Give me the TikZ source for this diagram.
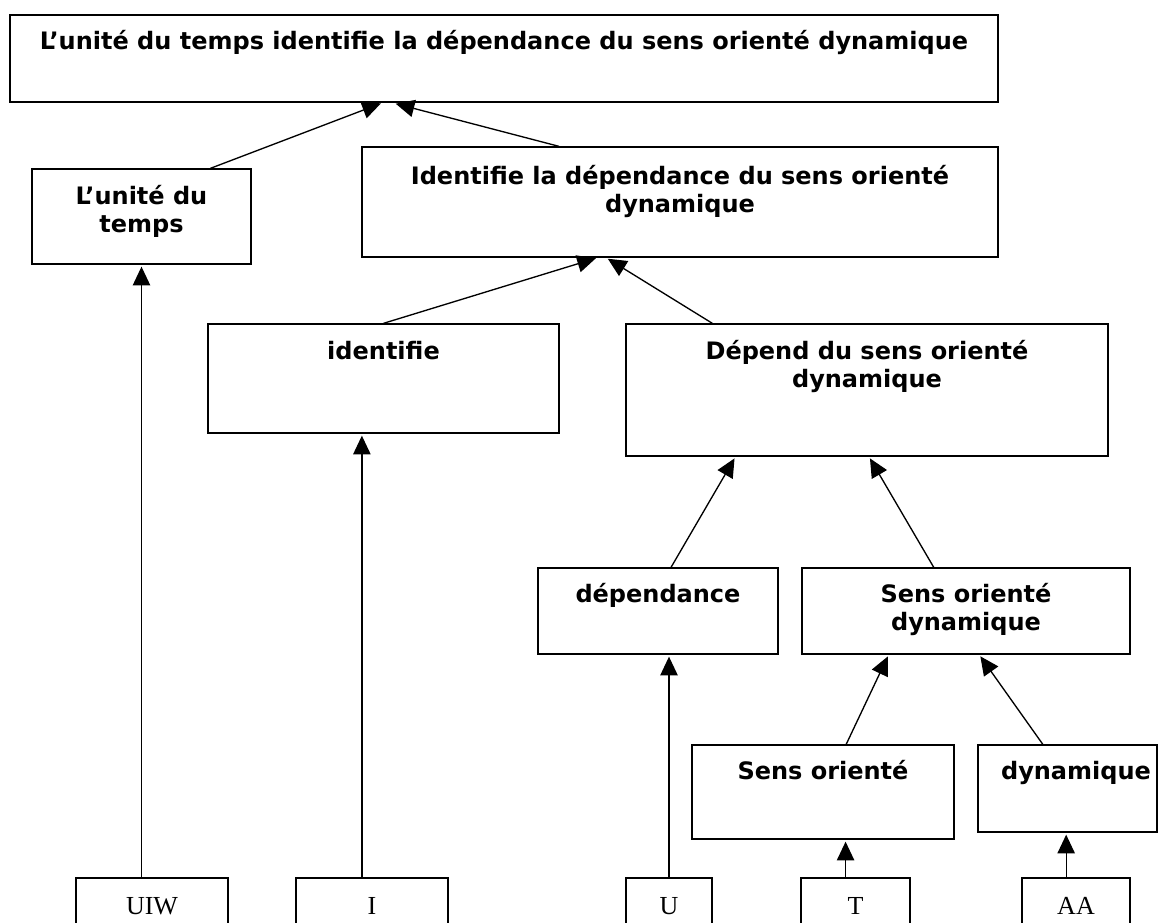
\documentclass[tikz,border=0pt]{standalone}
\usepackage{fontspec}
\setmainfont{Liberation Serif}
\newfontfamily\labfont{DejaVu Sans}
\usetikzlibrary{arrows.meta,calc,fit}

\tikzset{
  box/.style={draw=black, line width=1pt, inner sep=0pt},
  lab/.style={font=\labfont\bfseries\fontsize{18}{21.6}\selectfont, inner sep=0pt, anchor=base},
  leaf/.style={font=\fontsize{19.5}{23}\selectfont, inner sep=0pt, anchor=base},
  arr/.style={draw=black, line width=1pt, -{Triangle[length=14pt,width=13pt]}, shorten >=1.5pt}
}

\begin{document}
\begin{tikzpicture}[x=0.75pt,y=-0.75pt]
\useasboundingbox (0,0) rectangle (1159,923);
\clip (0,0) rectangle (1159,923);

% concept boxes
\node[box, fit={(10,15)(998,102)}] (top) {};
\node[lab] (topt) at ($(top.north)+(0,35)$) {L’unité du temps identifie la dépendance du sens orienté dynamique};

\node[box, fit={(32,169)(251,264)}] (unite) {};
\node[lab] (unitea) at ($(unite.north)+(0,36)$) {L’unité du};
\node[lab] (uniteb) at ($(unite.north)+(0,64)$) {temps};

\node[box, fit={(362,147)(998,257)}] (ident) {};
\node[lab] (identa) at ($(ident.north)+(0,38)$) {Identifie la dépendance du sens orienté};
\node[lab] (identb) at ($(ident.north)+(0,66)$) {dynamique};

\node[box, fit={(208,324)(559,433)}] (identifie) {};
\node[lab] (identifiet) at ($(identifie.north)+(0,36)$) {identifie};

\node[box, fit={(626,324)(1108,456)}] (depend) {};
\node[lab] (denda) at ($(depend.north)+(0,36)$) {Dépend du sens orienté};
\node[lab] (dendb) at ($(depend.north)+(0,64)$) {dynamique};

\node[box, fit={(538,568)(778,654)}] (dep) {};
\node[lab] (dept) at ($(dep.north)+(0,35)$) {dépendance};

\node[box, fit={(802,568)(1130,654)}] (sod) {};
\node[lab] (soda) at ($(sod.north)+(0,35)$) {Sens orienté};
\node[lab] (sodb) at ($(sod.north)+(0,63)$) {dynamique};

\node[box, fit={(692,745)(954,839)}] (so) {};
\node[lab] (sot) at ($(so.north)+(0,35)$) {Sens orienté};

\node[box, fit={(978,745)(1157,832)}] (dyn) {};
\node[lab] (dynt) at ($(dyn.north)+(8.5,35)$) {dynamique};

% word boxes along the bottom
\node[box, fit={(76,878)(228,960)}] (bUIW) {};
\node[leaf] (tUIW) at ($(bUIW.north)+(0,37)$) {UIW};
\node[box, fit={(296,878)(448,960)}] (bI) {};
\node[leaf] (tI) at ($(bI.north)+(0,37)$) {I};
\node[box, fit={(626,878)(712,960)}] (bU) {};
\node[leaf] (tU) at ($(bU.north)+(0,37)$) {U};
\node[box, fit={(801,878)(910,960)}] (bT) {};
\node[leaf] (tT) at ($(bT.north)+(0,37)$) {T};
\node[box, fit={(1022,878)(1130,960)}] (bAA) {};
\node[leaf] (tAA) at ($(bAA.north)+(0,37)$) {AA};

% composition arrows
\draw[arr] ($(unite.north west)!0.813!(unite.north east)$) -- ($(top.south west)!0.3775!(top.south east)$);
\draw[arr, shorten >=3pt] ($(ident.north west)!0.31!(ident.north east)$) -- ($(top.south west)!0.3866!(top.south east)$);
\draw[arr] ($(identifie.north west)!0.5!(identifie.north east)$) -- ($(ident.south west)!0.371!(ident.south east)$);
\draw[arr] ($(depend.north west)!0.18!(depend.north east)$) -- ($(ident.south west)!0.384!(ident.south east)$);
\draw[arr] ($(dep.north west)!0.554!(dep.north east)$) -- ($(depend.south west)!0.228!(depend.south east)$);
\draw[arr] ($(sod.north west)!0.402!(sod.north east)$) -- ($(depend.south west)!0.504!(depend.south east)$);
\draw[arr] ($(so.north west)!0.588!(so.north east)$) -- ($(sod.south west)!0.265!(sod.south east)$);
\draw[arr] ($(dyn.north west)!0.363!(dyn.north east)$) -- ($(sod.south west)!0.540!(sod.south east)$);

% vertical links from the words
\draw[arr] (bUIW.north -| unite.south) -- (unite.south);
\coordinate (iI) at ($(bI.north west)!0.434!(bI.north east)$);
\draw[arr] (iI) -- (iI |- identifie.south);
\draw[arr] (bU.north) -- (bU.north |- dep.south);
\coordinate (iT) at ($(bT.north west)!0.41!(bT.north east)$);
\draw[arr] (iT) -- (iT |- so.south);
\coordinate (iAA) at ($(bAA.north west)!0.41!(bAA.north east)$);
\draw[arr] (iAA) -- (iAA |- dyn.south);
\end{tikzpicture}
\end{document}
